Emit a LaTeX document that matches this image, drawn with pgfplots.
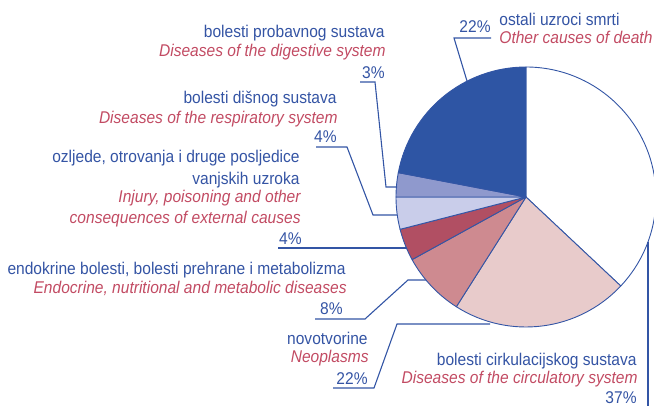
\documentclass[border=0pt]{standalone}
\usepackage{pgfplots}
\pgfplotsset{compat=1.18}
\usepackage{fontspec}
\setmainfont{Liberation Sans}[FakeStretch=0.915]
\definecolor{cBlue}{HTML}{2E55A4}
\definecolor{cLav}{HTML}{8F99CD}
\definecolor{cLavL}{HTML}{C9CDEA}
\definecolor{cRed}{HTML}{B14F63}
\definecolor{cPink}{HTML}{CE8A90}
\definecolor{cPinkL}{HTML}{E8CBCB}
\definecolor{txtBlue}{HTML}{3454A4}
\definecolor{txtRed}{HTML}{C24B63}
\definecolor{edge}{HTML}{3355A5}
% slice: start percentage, percentage, fill colour
\newcommand{\slice}[3]{%
  \filldraw[fill=#3, draw=edge, line width=0.45pt, line join=round]
    (axis cs:526,197) -- ++({90-3.6*(#1)}:65pt)
    arc[start angle={90-3.6*(#1)}, end angle={90-3.6*((#1)+(#2))}, radius=65pt] -- cycle;}
\tikzset{lbl/.style={inner sep=0pt, font=\fontsize{8.5}{10}\selectfont},
  bl/.style={lbl, text=txtBlue},
  rd/.style={lbl, text=txtRed, font=\fontsize{8.5}{10}\selectfont\itshape},
  lead/.style={draw=edge, line width=0.55pt}}
\begin{document}
\begin{tikzpicture}
\begin{axis}[x=0.5pt, y=0.5pt, y dir=reverse, xmin=0, xmax=654, ymin=0, ymax=406,
  hide axis, clip=false]
\coordinate (bl) at (rel axis cs:0,0);
\coordinate (tr) at (rel axis cs:1,1);
% pie slices, clockwise from 12 o'clock (start %, share %)
\slice{0}{37}{white}
\slice{37}{22}{cPinkL}
\slice{59}{8}{cPink}
\slice{67}{4}{cRed}
\slice{71}{4}{cLavL}
\slice{75}{3}{cLav}
\slice{78}{22}{cBlue}
% leader lines
\draw[lead] (axis cs:491,38) -- (axis cs:454,38) -- (axis cs:467,81);
\draw[lead] (axis cs:360,82) -- (axis cs:375,82) -- (axis cs:386,187) -- (axis cs:397,187);
\draw[lead] (axis cs:316,147) -- (axis cs:347,147) -- (axis cs:373,215) -- (axis cs:397,215);
\draw[lead] (axis cs:278,248) -- (axis cs:407,248);
\draw[lead] (axis cs:315,319) -- (axis cs:365,319) -- (axis cs:408,280) -- (axis cs:426,280);
\draw[lead] (axis cs:333,388) -- (axis cs:374,388) -- (axis cs:397,324) -- (axis cs:490,324);
\draw[lead] (axis cs:648,242) -- (axis cs:648,406);
% labels
\node[bl, anchor=base west] at (axis cs:499,25.7) {ostali uzroci smrti};
\node[rd, anchor=base west] at (axis cs:499,43.3) {Other causes of death};
\node[bl, anchor=base east] at (axis cs:491,32.7) {22\%};
\node[bl, anchor=base east] at (axis cs:385,37.5) {bolesti probavnog sustava};
\node[rd, anchor=base east] at (axis cs:386,57) {Diseases of the digestive system};
\node[bl, anchor=base east] at (axis cs:385,79) {3\%};
\node[bl, anchor=base east] at (axis cs:337,104) {bolesti dišnog sustava};
\node[rd, anchor=base east] at (axis cs:338,124) {Diseases of the respiratory system};
\node[bl, anchor=base east] at (axis cs:337,142.5) {4\%};
\node[bl, anchor=base east] at (axis cs:300,162.7) {ozljede, otrovanja i druge posljedice};
\node[bl, anchor=base east] at (axis cs:300,184.3) {vanjskih uzroka};
\node[rd, anchor=base east] at (axis cs:301,202.7) {Injury, poisoning and other};
\node[rd, anchor=base east] at (axis cs:301,224) {consequences of external causes};
\node[bl, anchor=base east] at (axis cs:302,245) {4\%};
\node[bl, anchor=base east] at (axis cs:346,275) {endokrine bolesti, bolesti prehrane i metabolizma};
\node[rd, anchor=base east] at (axis cs:347,293.3) {Endocrine, nutritional and metabolic diseases};
\node[bl, anchor=base east] at (axis cs:343,314.3) {8\%};
\node[bl, anchor=base east] at (axis cs:368,345) {novotvorine};
\node[rd, anchor=base east] at (axis cs:369,362.7) {Neoplasms};
\node[bl, anchor=base east] at (axis cs:368,384.3) {22\%};
\node[bl, anchor=base east] at (axis cs:637,365.7) {bolesti cirkulacijskog sustava};
\node[rd, anchor=base east] at (axis cs:638,384) {Diseases of the circulatory system};
\node[bl, anchor=base east] at (axis cs:637,404) {37\%};
\end{axis}
\pgfresetboundingbox
\path (bl) rectangle (tr);
\end{tikzpicture}
\end{document}
